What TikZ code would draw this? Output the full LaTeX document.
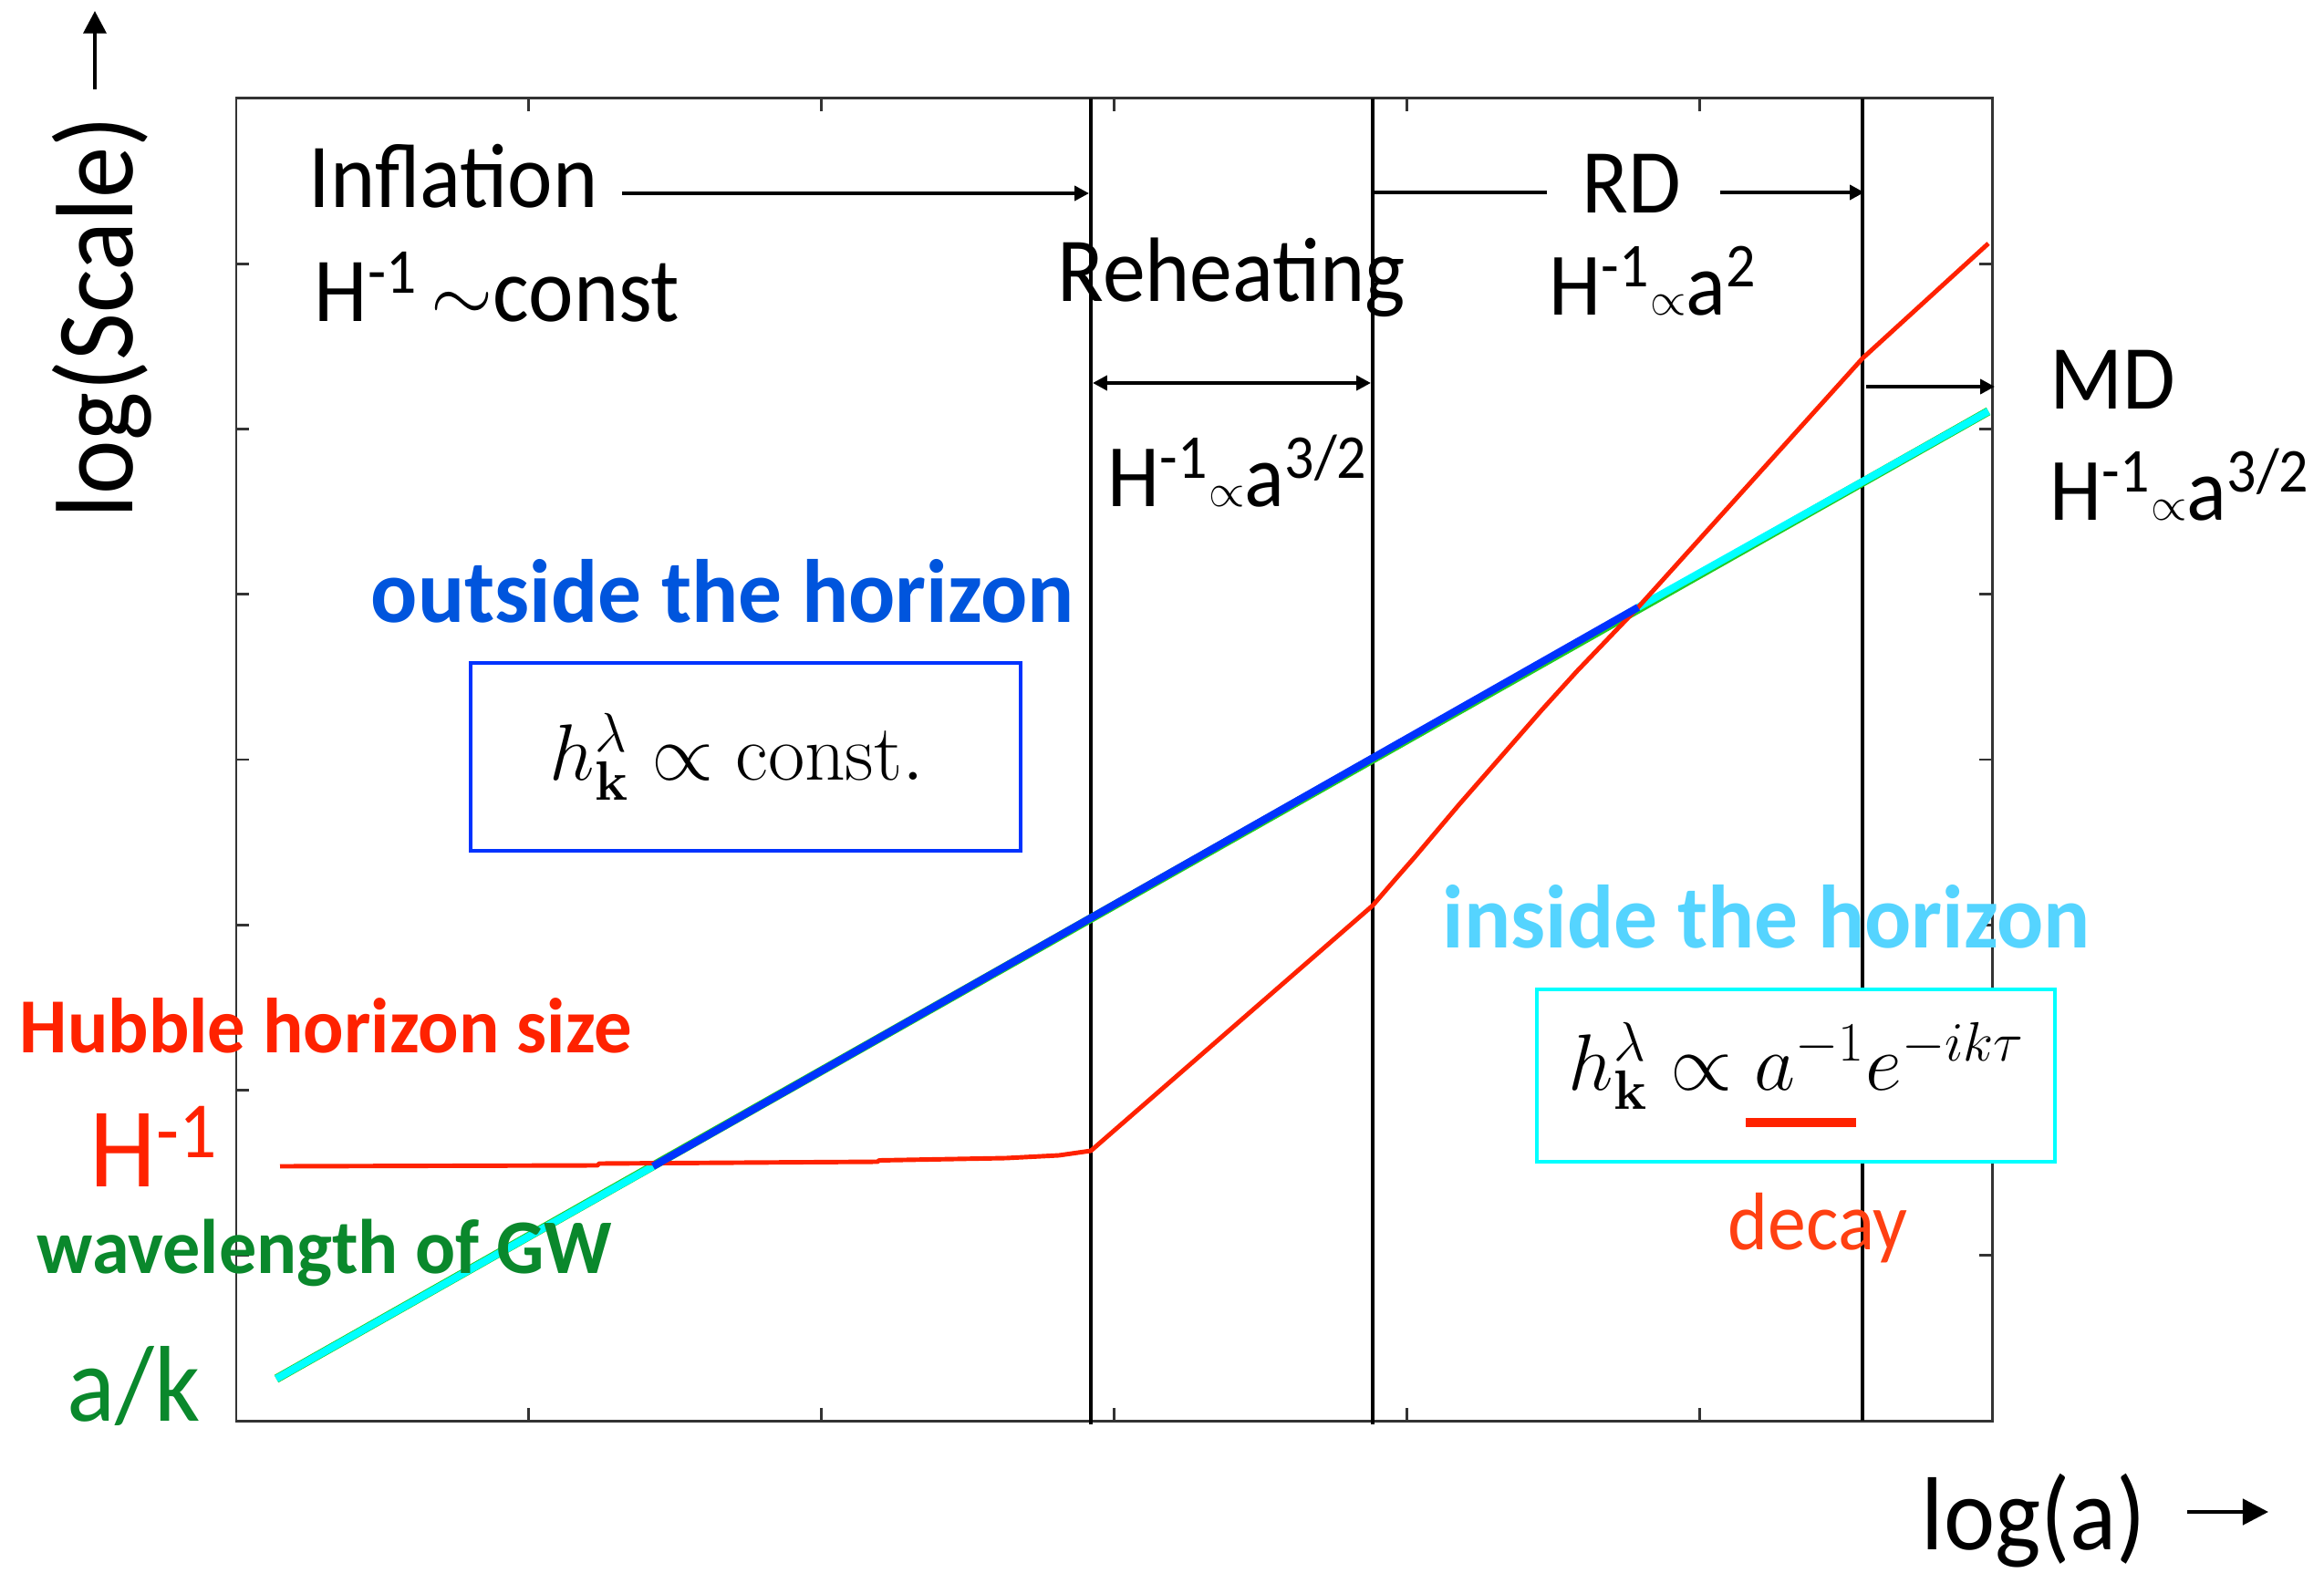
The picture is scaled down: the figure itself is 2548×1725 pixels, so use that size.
\documentclass[tikz,border=0pt]{standalone}
\usepackage[no-math]{fontspec}
\setmainfont{Carlito}[FakeStretch=0.935]
\newfontfamily\labfont{Carlito}[FakeStretch=0.97]
\usetikzlibrary{arrows.meta}
\definecolor{redc}{HTML}{FF2200}
\definecolor{decayc}{HTML}{FF4012}
\definecolor{bluec}{HTML}{0033FF}
\definecolor{outc}{HTML}{0055DD}
\definecolor{inc}{HTML}{55D4FF}
\definecolor{cyanc}{HTML}{00FFFF}
\definecolor{greenc}{HTML}{0A882C}
\definecolor{halo}{HTML}{22CC22}
\definecolor{framec}{HTML}{333333}
\begin{document}
\begin{tikzpicture}[x=0.01cm,y=-0.01cm,
  lab/.style={inner sep=0pt, anchor=base west},
  bigtxt/.style={lab, font=\fontsize{28.5}{34}\selectfont},
  eqtxt/.style={lab, font=\fontsize{27.8}{34}\selectfont},
  semtxt/.style={lab, font=\fontsize{28}{32}\labfont\bfseries},
  mathtxt/.style={lab, font=\fontsize{25.8}{30}\selectfont},
  mbox/.style={line width=1.4pt, fill=white},
  arr/.style={line width=1.1pt, -{Triangle[length=4.5pt,width=4.5pt]}},
  vline/.style={line width=1.15pt, black},
  tick/.style={line width=0.85pt, framec}
]
\useasboundingbox (0,0) rectangle (2548,1725);

% frame and ticks
\draw[line width=0.85pt, framec] (259,108) rectangle (2184,1558);
\foreach \i in {1,...,5}{
  \draw[tick] ({259+320.8*\i},1558) -- ({259+320.8*\i},1544);
  \draw[tick] ({259+320.8*\i},108) -- ({259+320.8*\i},122);
}
\foreach \i in {1,...,7}{
  \draw[tick] (259,{108+181.25*\i}) -- (273,{108+181.25*\i});
  \draw[tick] (2184,{108+181.25*\i}) -- (2170,{108+181.25*\i});
}

% epoch boundaries
\draw[vline] (1196,108) -- (1196,1562);
\draw[vline] (1505,108) -- (1505,1562);
\draw[vline] (2042,108) -- (2042,1558);

% curves
\draw[halo, line width=2.7pt] (303,1512) -- (2180,451);
\draw[cyanc, line width=2.3pt] (303,1512) -- (716,1279);
\draw[cyanc, line width=2.3pt] (1796,666) -- (2180,451);
\draw[redc, line width=1.4pt, line join=round]
  (307,1279) -- (655,1278) -- (657,1276) -- (962,1274) -- (964,1272.5)
  -- (1103,1270) -- (1161,1267) -- (1196,1262) -- (1505,993)
  -- (1530,964) -- (1551,940) -- (1600,882) -- (1649,826) -- (1690,779)
  -- (1729,736) -- (1796,666) -- (2042,393) -- (2180,267);
\draw[bluec, line width=2.3pt] (716,1279) -- (1796,666);

% boxes with formulas
\filldraw[mbox, draw=bluec] (516,727) rectangle (1119,933);
\node[mathtxt] (eqout) at (602,856) {$h^{\lambda}_{\mathbf{k}} \propto \mathrm{const.}$};
\filldraw[mbox, draw=cyanc] (1685,1085) rectangle (2253,1274);
\node[mathtxt] (eqin) at (1719,1195) {$h^{\lambda}_{\mathbf{k}} \propto a^{-1}e^{-ik\tau}$};
\fill[redc] (1914,1226) rectangle (2035,1236);

% phase labels
\node[bigtxt] (infl) at (338,228) {Inflation};
\node[bigtxt] (inflH) at (344,353) {H\textsuperscript{-1}$\,\sim$const};
\node[bigtxt] (reh) at (1159,331) {Reheating};
\node[eqtxt] (rehH) at (1214,556) {H\textsuperscript{-1}$\scriptscriptstyle\propto$a\textsuperscript{3/2}};
\node[bigtxt] (rd) at (1734,234) {RD};
\node[eqtxt] (rdH) at (1698,346) {H\textsuperscript{-1}$\scriptscriptstyle\propto$a\textsuperscript{2}};
\node[bigtxt] (md) at (2247,449) {MD};
\node[eqtxt] (mdH) at (2247,571) {H\textsuperscript{-1}$\scriptscriptstyle\propto$a\textsuperscript{3/2}};

% phase arrows
\coordinate (inflS) at (682,212);
\coordinate (inflE) at (1194,212);
\draw[arr] (inflS) -- (inflE);
\coordinate (rdS) at (1507,211);
\coordinate (rdM) at (1696,211);
\coordinate (rdN) at (1886,211);
\coordinate (rdE) at (2044,211);
\draw[line width=1.1pt] (rdS) -- (rdM);
\draw[arr] (rdN) -- (rdE);
\coordinate (rehS) at (1198,420);
\coordinate (rehE) at (1503,420);
\draw[arr, {Triangle[length=4.5pt,width=4.5pt]}-{Triangle[length=4.5pt,width=4.5pt]}] (rehS) -- (rehE);
\coordinate (mdS) at (2046,424);
\coordinate (mdE) at (2187,424);
\draw[arr] (mdS) -- (mdE);

% region labels
\node[semtxt, text=outc] (outside) at (406,683) {outside the horizon};
\node[semtxt, text=inc] (inside) at (1581,1039) {inside the horizon};
\node[lab, text=decayc, font=\fontsize{25.5}{28}\selectfont] (decay) at (1894,1370) {decay};

% curve labels
\node[lab, text=redc, font=\fontsize{24.3}{28}\labfont\bfseries] (hub) at (21,1154) {Hubble horizon size};
\node[lab, text=redc, font=\fontsize{35.5}{40}\selectfont] (hinv) at (98,1301) {H\textsuperscript{-1}};
\node[lab, text=greenc, font=\fontsize{24.1}{28}\labfont\bfseries] (wave) at (40,1396) {wavelength of GW};
\node[lab, text=greenc, font=\fontsize{33.6}{38}\selectfont] (ak) at (73,1558) {a/k};

% axis labels
\node[lab, rotate=90, font=\fontsize{34.3}{38}\selectfont] (ylab) at (145,569) {log(Scale)};
\coordinate (yarS) at (104,98);
\coordinate (yarE) at (104,12);
\draw[line width=1.3pt, -{Triangle[length=7pt,width=7pt]}] (yarS) -- (yarE);
\node[lab, font=\fontsize{32.4}{38}\selectfont] (xlab) at (2106,1699) {log(a)};
\coordinate (xarS) at (2398,1658);
\coordinate (xarE) at (2487,1658);
\draw[line width=1.3pt, -{Triangle[length=8pt,width=8pt]}] (xarS) -- (xarE);
\end{tikzpicture}
\end{document}
